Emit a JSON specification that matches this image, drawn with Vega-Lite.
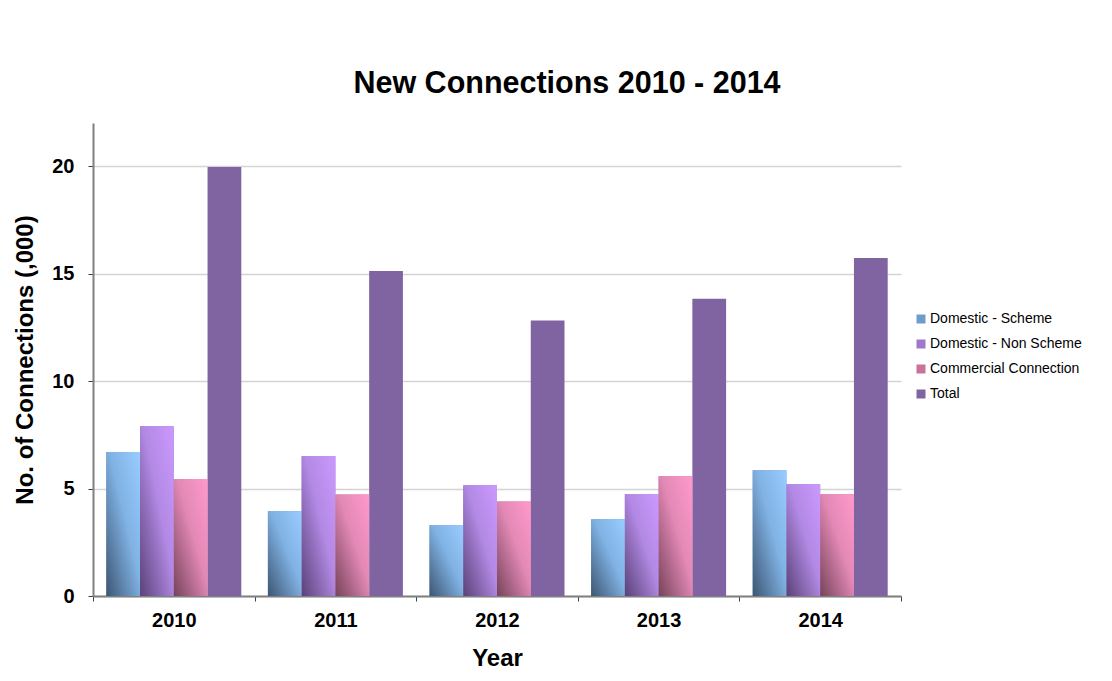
{
  "$schema": "https://vega.github.io/schema/vega-lite/v6.json",
  "width": 808,
  "height": 473,
  "autosize": "none",
  "padding": {"left": 93, "top": 123, "right": 211, "bottom": 85},
  "background": "white",
  "config": {"font": "Liberation Sans", "view": {"stroke": null}},
  "title": {
    "text": "New Connections 2010 - 2014",
    "font": "Liberation Sans",
    "fontSize": 30.5,
    "fontWeight": "bold",
    "color": "black",
    "anchor": "middle",
    "frame": "group",
    "dx": 70,
    "offset": 24
  },
  "data": {
    "values": [
      {"year": "2010", "series": "Domestic - Scheme", "value": 6.70},
      {"year": "2010", "series": "Domestic - Non Scheme", "value": 7.89},
      {"year": "2010", "series": "Commercial Connection", "value": 5.44},
      {"year": "2010", "series": "Total", "value": 19.95},
      {"year": "2011", "series": "Domestic - Scheme", "value": 3.94},
      {"year": "2011", "series": "Domestic - Non Scheme", "value": 6.50},
      {"year": "2011", "series": "Commercial Connection", "value": 4.72},
      {"year": "2011", "series": "Total", "value": 15.12},
      {"year": "2012", "series": "Domestic - Scheme", "value": 3.29},
      {"year": "2012", "series": "Domestic - Non Scheme", "value": 5.15},
      {"year": "2012", "series": "Commercial Connection", "value": 4.40},
      {"year": "2012", "series": "Total", "value": 12.81},
      {"year": "2013", "series": "Domestic - Scheme", "value": 3.57},
      {"year": "2013", "series": "Domestic - Non Scheme", "value": 4.73},
      {"year": "2013", "series": "Commercial Connection", "value": 5.57},
      {"year": "2013", "series": "Total", "value": 13.83},
      {"year": "2014", "series": "Domestic - Scheme", "value": 5.85},
      {"year": "2014", "series": "Domestic - Non Scheme", "value": 5.20},
      {"year": "2014", "series": "Commercial Connection", "value": 4.73},
      {"year": "2014", "series": "Total", "value": 15.72}
    ]
  },
  "encoding": {
    "x": {
      "field": "year",
      "type": "nominal",
      "scale": {"paddingInner": 0, "paddingOuter": 0},
      "axis": {
        "title": "Year",
        "labelAngle": 0,
        "tickBand": "extent",
        "domainColor": "#808080",
        "domainWidth": 2,
        "tickColor": "#404040",
        "tickSize": 5,
        "labelFontSize": 20,
        "labelFontWeight": "bold",
        "labelColor": "black",
        "labelPadding": 9,
        "titleFontSize": 24,
        "titleFontWeight": "bold",
        "titleColor": "black",
        "titlePadding": 16
      }
    },
    "y": {
      "field": "value",
      "type": "quantitative",
      "scale": {"domain": [0, 22], "nice": false},
      "axis": {
        "title": "No. of Connections (,000)",
        "values": [0, 5, 10, 15, 20],
        "grid": true,
        "gridColor": "#d4d4d4",
        "gridWidth": 1.5,
        "domainColor": "#808080",
        "domainWidth": 2,
        "tickColor": "#404040",
        "tickSize": 5,
        "labelFontSize": 20,
        "labelFontWeight": "bold",
        "labelColor": "black",
        "labelPadding": 14,
        "titleFontSize": 24,
        "titleFontWeight": "bold",
        "titleColor": "black",
        "titlePadding": 14
      }
    },
    "xOffset": {
      "field": "series",
      "type": "nominal",
      "sort": ["Domestic - Scheme", "Domestic - Non Scheme", "Commercial Connection", "Total"],
      "scale": {
        "domain": ["Domestic - Scheme", "Domestic - Non Scheme", "Commercial Connection", "Total"],
        "paddingInner": 0,
        "paddingOuter": 0.394
      }
    }
  },
  "layer": [
    {
      "mark": {"type": "bar"},
      "encoding": {
        "color": {
          "field": "series",
          "type": "nominal",
          "sort": ["Domestic - Scheme", "Domestic - Non Scheme", "Commercial Connection", "Total"],
          "scale": {
            "domain": ["Domestic - Scheme", "Domestic - Non Scheme", "Commercial Connection", "Total"],
            "range": ["#6f9cc8", "#9f77cc", "#c9739a", "#8064A2"]
          },
          "legend": {
            "orient": "none",
            "legendX": 821,
            "legendY": 189,
            "title": null,
            "symbolType": "square",
            "symbolSize": 81,
            "symbolStrokeWidth": 0,
            "symbolOpacity": 1,
            "labelFontSize": 14,
            "labelColor": "black",
            "labelOffset": 2,
            "rowPadding": 11
          }
        }
      }
    },
    {
      "transform": [{"filter": "datum.series === 'Domestic - Scheme'"}],
      "mark": {
        "type": "bar",
        "color": {"gradient": "linear", "x1": 0, "y1": 1, "x2": 1, "y2": 0, "stops": [{"offset": 0, "color": "#3d5672"}, {"offset": 0.55, "color": "#80b2e4"}, {"offset": 1, "color": "#99ccff"}]}
      }
    },
    {
      "transform": [{"filter": "datum.series === 'Domestic - Non Scheme'"}],
      "mark": {
        "type": "bar",
        "color": {"gradient": "linear", "x1": 0, "y1": 1, "x2": 1, "y2": 0, "stops": [{"offset": 0, "color": "#5a4277"}, {"offset": 0.55, "color": "#b289e4"}, {"offset": 1, "color": "#cc99ff"}]}
      }
    },
    {
      "transform": [{"filter": "datum.series === 'Commercial Connection'"}],
      "mark": {
        "type": "bar",
        "color": {"gradient": "linear", "x1": 0, "y1": 1, "x2": 1, "y2": 0, "stops": [{"offset": 0, "color": "#76435a"}, {"offset": 0.55, "color": "#e389b6"}, {"offset": 1, "color": "#ff99cc"}]}
      }
    }
  ]
}
